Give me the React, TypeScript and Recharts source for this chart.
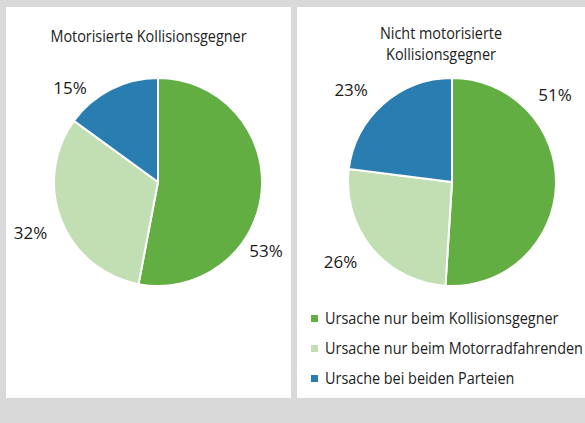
import React from 'react';
import { PieChart, Pie, Cell, Legend } from 'recharts';

// categories and values (percent)
const causes = [
  'Ursache nur beim Kollisionsgegner',
  'Ursache nur beim Motorradfahrenden',
  'Ursache bei beiden Parteien',
];
const motorised = [53, 32, 15];
const nonMotorised = [51, 26, 23];

const COLORS = ['#62ae43', '#c1dfb3', '#2a7db1'];
const FONT = '"Open Sans", "Noto Sans", sans-serif';

// label placement tweak per slice: rotation from mid angle (deg, ccw) and gap beyond radius
const leftLabelPos = [
  { turn: -27, gap: 24 },
  { turn: 0, gap: 33 },
  { turn: 16, gap: 25 },
];
const rightLabelPos = [
  { turn: 42, gap: 31 },
  { turn: -4, gap: 33 },
  { turn: 6, gap: 33 },
];

const RAD = Math.PI / 180;

const makeLabel = (pos: { turn: number; gap: number }[]) => (props: any) => {
  const { cx, cy, midAngle, outerRadius, index, value } = props;
  const p = pos[index];
  const a = (midAngle + p.turn) * RAD;
  const r = outerRadius + p.gap;
  const x = cx + r * Math.cos(a);
  const y = cy - r * Math.sin(a);
  return (
    <text x={x} y={y} textAnchor="middle" dominantBaseline="central" fill="#1a1a1a" fontSize={17} fontFamily={FONT}>
      {value}%
    </text>
  );
};

const toRows = (vals: number[]) => causes.map((name, i) => ({ name, value: vals[i] }));

const LegendBox = () => (
  <div style={{ fontFamily: FONT, fontSize: 16, color: '#222', whiteSpace: 'nowrap' }}>
    {causes.map((c, i) => (
      <div key={c} style={{ display: 'flex', alignItems: 'center', height: 30 }}>
        <span style={{ width: 7, height: 7, background: COLORS[i], marginRight: 7, display: 'inline-block', flex: 'none' }} />
        <span style={{ display: 'inline-block', transform: 'scaleX(0.9)', transformOrigin: 'left center' }}>{c}</span>
      </div>
    ))}
  </div>
);

const titleStyle: React.CSSProperties = {
  position: 'absolute',
  left: 0,
  right: 0,
  textAlign: 'center',
  fontFamily: FONT,
  fontSize: 16,
  lineHeight: '21px',
  color: '#222',
  transform: 'scaleX(0.9)',
  transformOrigin: 'center',
  zIndex: 1,
};

export default function App() {
  return (
    <div style={{ position: 'absolute', left: 0, top: 0, width: 585, height: 423, background: '#d9d9d9', overflow: 'hidden' }}>
      <div style={{ position: 'absolute', left: 6, top: 7, width: 285, height: 391, background: '#fff' }}>
        <div style={{ ...titleStyle, top: 19 }}>Motorisierte Kollisionsgegner</div>
        <PieChart width={285} height={391} style={{ position: 'absolute', left: 0, top: 0 }}>
          <Pie
            data={toRows(motorised)}
            dataKey="value"
            cx={147}
            cy={170}
            outerRadius={104}
            startAngle={90}
            endAngle={-270}
            stroke="#fff"
            strokeWidth={2}
            label={makeLabel(leftLabelPos)}
            labelLine={false}
            isAnimationActive={false}
          >
            {motorised.map((_, i) => (
              <Cell key={i} fill={COLORS[i]} />
            ))}
          </Pie>
        </PieChart>
      </div>
      <div style={{ position: 'absolute', left: 297, top: 7, width: 288, height: 391, background: '#fff' }}>
        <div style={{ ...titleStyle, top: 16 }}>
          Nicht motorisierte
          <br />
          Kollisionsgegner
        </div>
        <PieChart width={288} height={391} style={{ position: 'absolute', left: 0, top: 0 }}>
          <Pie
            data={toRows(nonMotorised)}
            dataKey="value"
            cx={150}
            cy={170}
            outerRadius={104}
            startAngle={90}
            endAngle={-270}
            stroke="#fff"
            strokeWidth={2}
            label={makeLabel(rightLabelPos)}
            labelLine={false}
            isAnimationActive={false}
          >
            {nonMotorised.map((_, i) => (
              <Cell key={i} fill={COLORS[i]} />
            ))}
          </Pie>
          <Legend
            content={<LegendBox />}
            layout="vertical"
            wrapperStyle={{ position: 'absolute', left: 14, top: 296, width: 274 }}
          />
        </PieChart>
      </div>
    </div>
  );
}
